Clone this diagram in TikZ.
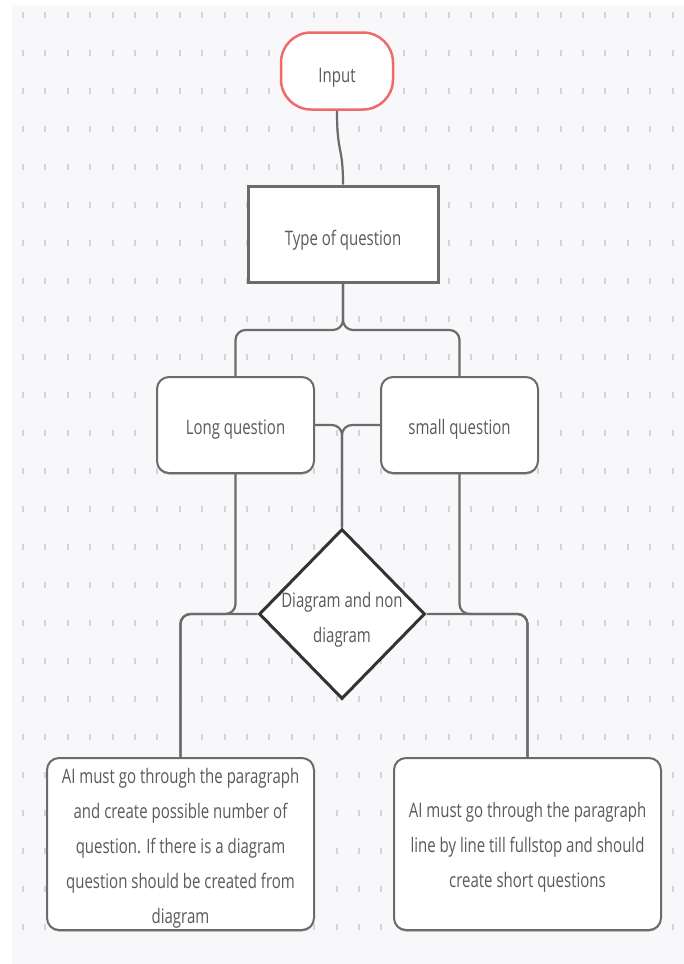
\documentclass[tikz,border=0pt]{standalone}
\usepackage{fontspec}
\setmainfont{Open Sans}[FakeStretch=0.75]
\usepackage{xcolor}
\usepackage{tikz}
\usetikzlibrary{shapes,arrows,positioning,calc,shadows}
\definecolor{bgcol}{HTML}{F8F8FA}
\definecolor{dotcol}{HTML}{D4D4D8}
\definecolor{linecol}{HTML}{6B6B6B}
\definecolor{txtcol}{HTML}{5A5A5A}
\definecolor{startred}{HTML}{F06A6A}

\begin{document}
\begin{tikzpicture}[x=1pt, y=-1pt,
    font=\fontsize{20}{35}\selectfont, text=txtcol,
    terminal/.style={rectangle, rounded corners=30pt, draw=startred, line width=2.5pt, fill=white, minimum width=112pt, minimum height=77pt,
        text height=23pt, text depth=0pt},
    process/.style={rectangle, draw=linecol, line width=3pt, fill=white, minimum width=190pt, minimum height=96pt,
        text height=22pt, text depth=0pt},
    option/.style={rectangle, rounded corners=12pt, draw=linecol, line width=2pt, fill=white, minimum width=157pt, minimum height=96pt,
        text height=19pt, text depth=0pt,
        drop shadow={shadow xshift=0pt, shadow yshift=-1.5pt, fill=black!60, opacity=0.5}},
    decision/.style={diamond, draw=black!80, line width=3pt, fill=white, minimum width=166pt, minimum height=170pt, inner sep=0pt},
    result/.style={option, minimum width=267pt, minimum height=172pt, align=center, inner sep=0pt},
    connector/.style={draw=linecol, line width=2.2pt, rounded corners=10pt}
]
\useasboundingbox (0,0) rectangle (684,964);

% Canvas
\fill[bgcol] (12,5) rectangle (684,964);
\foreach \i in {0,...,29}
  \foreach \j in {0,...,24}
    \draw[dotcol, line width=2pt] ({23+22.4*\i},{12+38*\j}) -- ++(0,6);

% Nodes
\node[terminal] (input) at (337,71) {Input};
\node[process] (type) at (343,234) {Type of question};
\node[option] (long) at (235.5,425) {Long question};
\node[option] (small) at (459.5,425) {small question};
\node[decision, label={[align=center, text height=56pt, text depth=0pt]center:{Diagram and non\\diagram}}] (diag) at (342,614) {};
\node[result, text height=158pt] (longres) at (180.5,844) {
    AI must go through the paragraph\\
    and create possible number of\\
    question. If there is a diagram\\
    question should be created from\\
    diagram
};
\node[result, text height=86pt] (smallres) at (527.5,844) {
    AI must go through the paragraph\\
    line by line till fullstop and should\\
    create short questions
};

% Connectors
\coordinate (fork) at (343,330);
\draw[connector] (input.south) .. controls +(0,45) and +(0,-40) .. (type.north);
\draw[connector] (type.south) -- (fork) -| (long.north);
\draw[connector] (type.south) -- (fork) -| (small.north);
\draw[connector] (long.east) -| (diag.north);
\draw[connector] (small.west) -| (diag.north);
\draw[connector] (long.south) |- (longres.north |- diag.west) -- (longres.north);
\draw[connector] (diag.west) -| (longres.north);
\draw[connector] (small.south) |- (smallres.north |- diag.east) -- (smallres.north);
\draw[connector] (diag.east) -| (smallres.north);

\end{tikzpicture}
\end{document}
